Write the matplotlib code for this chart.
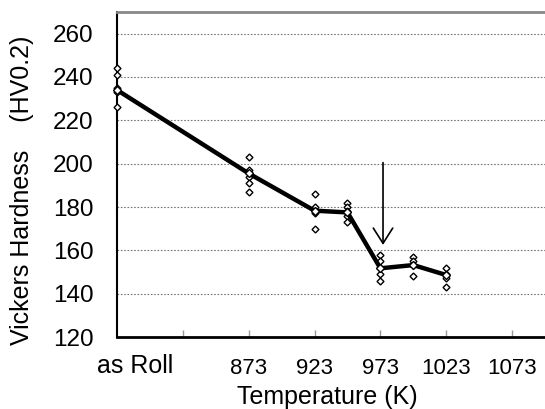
import matplotlib.pyplot as plt

plt.rcParams['font.family'] = ['Liberation Sans', 'DejaVu Sans']

# measured hardness, each heat treatment (as Roll drawn at 773 on the axis)
temps = [773, 873, 923, 948, 973, 998, 1023]
points = [
    [244, 241, 235, 233, 226],
    [203, 197, 194, 191, 187],
    [186, 180, 178, 177, 170],
    [182, 180, 178, 176, 173],
    [158, 155, 152, 149, 146],
    [157, 155, 153, 148],
    [152, 149, 147, 143],
]
means = [234, 195.5, 178.3, 177.5, 151.7, 153.2, 148.6]

tick_pos = [823, 873, 923, 973, 1023, 1073]
tick_labels = ['', '873', '923', '973', '1023', '1073']
y_ticks = [120, 140, 160, 180, 200, 220, 240, 260]

fig = plt.figure(figsize=(5.45, 4.09), dpi=100)
ax = fig.add_axes([117/545, 1 - 337/409, 428/545, 325/409])

for t, vals in zip(temps, points):
    ax.plot([t] * len(vals), vals, linestyle='none', marker='D', markersize=3.5,
            markerfacecolor='white', markeredgecolor='black', markeredgewidth=1.0,
            zorder=3, clip_on=False)
ax.plot(temps, means, color='black', linewidth=3.2, marker='D', markersize=4.5,
        markerfacecolor='white', markeredgecolor='black', markeredgewidth=1.0,
        zorder=4, clip_on=False)

# arrow marking 973 K
ax.annotate('', xy=(975, 162.5), xytext=(975, 200.5),
            arrowprops=dict(arrowstyle='->,head_length=0.55,head_width=0.35',
                            color='black', linewidth=1.2, mutation_scale=20,
                            shrinkA=0, shrinkB=0))

ax.set_xlim(773, 1098)
ax.set_ylim(120, 270)
ax.set_yticks(y_ticks)
ax.set_xticks(tick_pos)
ax.set_xticklabels(tick_labels)
ax.yaxis.grid(True, linestyle=(0, (1.5, 1.5)), color='#777777', linewidth=0.8)
ax.set_axisbelow(True)

ax.tick_params(axis='x', direction='in', length=5, width=1, color='#999999',
               labelsize=16, pad=15)
ax.tick_params(axis='y', length=0, labelsize=17.5, pad=17)

ax.spines['right'].set_visible(False)
ax.spines['top'].set_color('#888888')
ax.spines['top'].set_linewidth(2)
ax.spines['bottom'].set_linewidth(2)
ax.spines['left'].set_linewidth(1.5)

ax.text(787, -0.09, 'as Roll', transform=ax.get_xaxis_transform(),
        ha='center', va='center', fontsize=18)
fig.text(327/545, 1 - 397/409, 'Temperature (K)', ha='center', va='center', fontsize=18)
fig.text(22/545, 1 - 190/409, 'Vickers Hardness    (HV0.2)', rotation=90,
         ha='center', va='center', fontsize=18)

fig.savefig('out.png', dpi=100)
